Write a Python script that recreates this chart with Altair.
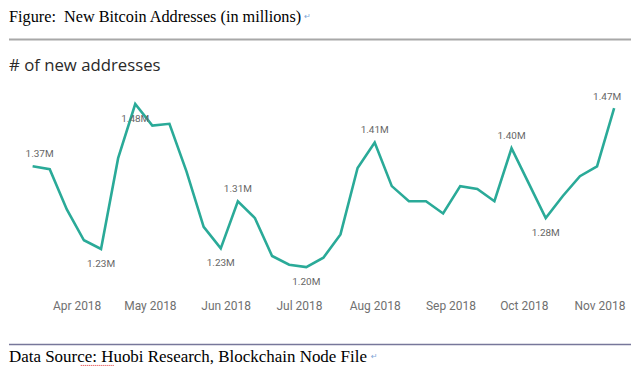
import altair as alt
import pandas as pd

# ---- data ----
dates = [
    "2018-03-14", "2018-03-21", "2018-03-28", "2018-04-04", "2018-04-11",
    "2018-04-18", "2018-04-25", "2018-05-02", "2018-05-09", "2018-05-16",
    "2018-05-23", "2018-05-30", "2018-06-06", "2018-06-13", "2018-06-20",
    "2018-06-27", "2018-07-04", "2018-07-11", "2018-07-18", "2018-07-25",
    "2018-08-01", "2018-08-08", "2018-08-15", "2018-08-22", "2018-08-29",
    "2018-09-05", "2018-09-12", "2018-09-19", "2018-09-26", "2018-10-03",
    "2018-10-10", "2018-10-17", "2018-10-24", "2018-10-31", "2018-11-07",
]
values = [
    1.373, 1.368, 1.299, 1.246, 1.231, 1.387, 1.480, 1.443, 1.446, 1.364,
    1.269, 1.232, 1.313, 1.284, 1.219, 1.204, 1.200, 1.216, 1.256, 1.370,
    1.414, 1.339, 1.313, 1.313, 1.292, 1.339, 1.334, 1.313, 1.404, 1.344,
    1.284, 1.322, 1.356, 1.373, 1.473,
]
label_idx = [0, 4, 6, 11, 12, 16, 20, 28, 30, 34]
label_pos = ["above-right", "below", "below", "below", "above", "below",
             "above", "above", "below", "above-left"]
month_ticks = [4, 5, 6, 7, 8, 9, 10, 11]

fig_title = "Figure:\u00a0\u00a0New Bitcoin Addresses (in millions)"
chart_title = "# of new addresses"
source_text = "Data Source: Huobi Research, Blockchain Node File"

df = pd.DataFrame({"date": dates, "value": values})
lab = pd.DataFrame({
    "date": [dates[i] for i in label_idx],
    "value": [values[i] for i in label_idx],
    "pos": label_pos,
})

W, H = 624, 288
x_scale = alt.Scale(
    type="utc",
    domain=[alt.DateTime(year=2018, month=3, date=4, hours=8, utc=True),
            alt.DateTime(year=2018, month=11, date=13, hours=21, minutes=36, utc=True)],
)
y_scale = alt.Scale(domain=[1.14575, 1.6387], zero=False, nice=False)
x_axis = alt.Axis(
    values=[alt.DateTime(year=2018, month=m, date=1, utc=True) for m in month_ticks],
    format="%b %Y", title=None, domain=False, ticks=False, tickSize=0, grid=False,
    labelFont="Roboto", labelFontSize=12, labelColor="#707070", labelPadding=2,
    labelFlush=False, labelOverlap=False,
)
x_enc = alt.X("date:T", scale=x_scale, axis=x_axis)
y_enc = alt.Y("value:Q", scale=y_scale, axis=None)

line = alt.Chart(df).mark_line(color="#2AAA98", strokeWidth=2.6).encode(x=x_enc, y=y_enc)

lab_base = alt.Chart(lab).transform_calculate(
    label="format(datum.value, '.2f') + 'M'"
).encode(x=x_enc, y=y_enc, text="label:N")


def lbl(pos, dx, dy):
    return lab_base.transform_filter(alt.datum.pos == pos).mark_text(
        dx=dx, dy=dy, font="Roboto", fontSize=10, color="#666666", baseline="middle"
    )


labels = [
    lbl("above", 0, -12),
    lbl("below", 0, 15),
    lbl("above-right", 7, -12),
    lbl("above-left", -7, -11),
]

one = pd.DataFrame({"k": [0]})


def txt(s, x, y, font, size, color, align="left"):
    return alt.Chart(pd.DataFrame({"t": [s]})).mark_text(
        font=font, fontSize=size, color=color, align=align, baseline="alphabetic"
    ).encode(x=alt.value(x), y=alt.value(y), text="t:N")


def rule(x1, x2, y, color, width, dash=None):
    kw = dict(color=color, strokeWidth=width)
    if dash:
        kw["strokeDash"] = dash
    return alt.Chart(one).mark_rule(**kw).encode(
        x=alt.value(x1), x2=alt.value(x2), y=alt.value(y)
    )


serif = "Times New Roman, Liberation Serif, serif"
deco = [
    txt(fig_title, 0, 10, serif, 16.3, "#000000"),
    txt("↵", 296, 7, "DejaVu Sans", 8, "#7FA6D6"),
    rule(0, W, 28, "#A8A8A8", 2),
    txt(chart_title, 0, 60, "Segoe UI, Open Sans, sans-serif", 16.8, "#2A2A2A"),
    rule(0, W, 334, "#77779A", 1.5),
    txt(source_text, 0, 352, serif, 17, "#000000"),
    txt("↵", 363, 349, "DejaVu Sans", 8, "#7FA6D6"),
    rule(72, 106, 355, "#E03030", 1, [1, 1]),
]

chart = alt.layer(line, *labels, *deco).properties(
    width=W, height=H, padding=0
).configure_view(stroke=None)

chart.save("out.html", embed_options={"renderer": "svg", "actions": False})
